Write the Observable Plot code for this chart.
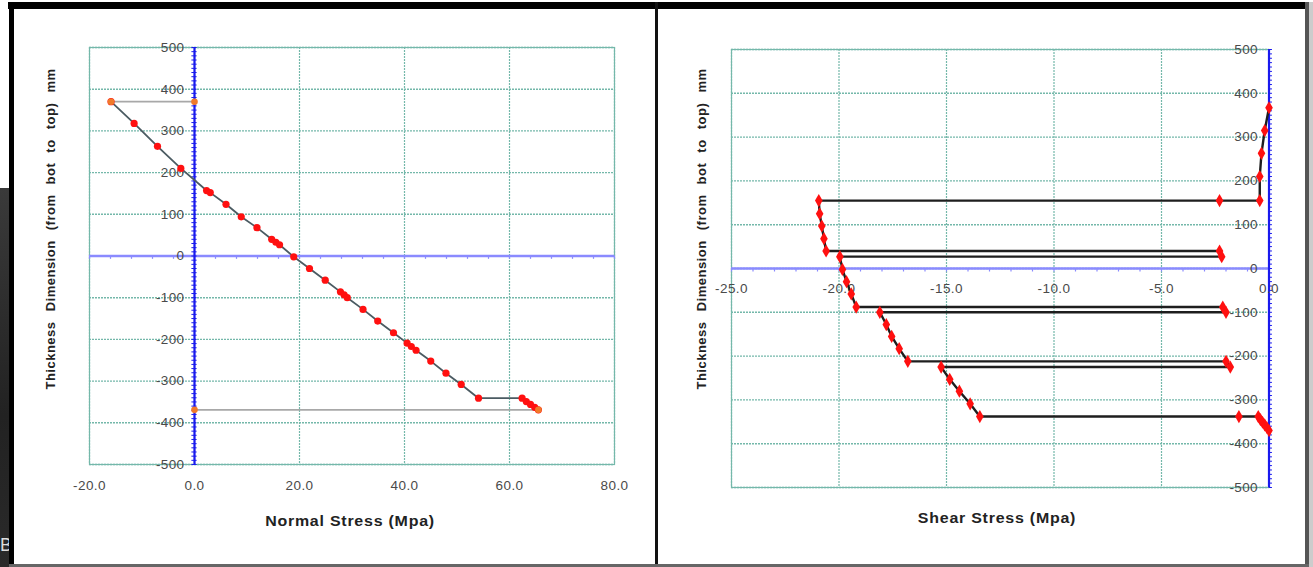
<!DOCTYPE html>
<html><head><meta charset="utf-8">
<script src="https://cdn.jsdelivr.net/npm/d3@7"></script>
<script src="https://cdn.jsdelivr.net/npm/@observablehq/plot@0.6"></script>
<style>
html,body{margin:0;padding:0}
body{width:1313px;height:567px;overflow:hidden;background:#fff;position:relative;font-family:"Liberation Sans",Arial,sans-serif}
.abs{position:absolute}
.ytitle{position:absolute;white-space:nowrap;font-weight:bold;font-size:13px;color:#222;word-spacing:6px;letter-spacing:0.5px;transform:translate(-50%,-50%) rotate(-90deg)}
.xtitle{position:absolute;white-space:nowrap;font-weight:bold;font-size:14.5px;color:#222;letter-spacing:0.7px;transform:translate(-50%,-50%) scaleX(1.1)}
</style></head><body>
<div class="abs" style="left:0;top:188px;width:10px;height:379px;background:linear-gradient(#3a3a3a,#222 60%,#2a2a2a)"></div>
<div class="abs" style="left:0;top:535px;font-size:18px;color:#ddd;line-height:20px">B</div>
<div id="left" class="abs" style="left:14px;top:9px"></div>
<div id="right" class="abs" style="left:658px;top:9px"></div>
<div class="abs" style="left:8px;top:2px;width:1305px;height:7px;background:#000"></div>
<div class="abs" style="left:9px;top:2px;width:5px;height:565px;background:#000"></div>
<div class="abs" style="left:655px;top:2px;width:3px;height:565px;background:#111"></div>
<div class="abs" style="left:1305px;top:2px;width:4px;height:565px;background:#555"></div>
<div class="abs" style="left:1309px;top:2px;width:4px;height:565px;background:#ccc"></div>
<div class="abs" style="left:9px;top:564px;width:1300px;height:3px;background:#666"></div>
<div class="ytitle" style="left:50px;top:229px">Thickness Dimension (from bot to top) mm</div>
<div class="ytitle" style="left:701px;top:229px">Thickness Dimension (from bot to top) mm</div>
<div class="xtitle" style="left:350px;top:521px">Normal Stress (Mpa)</div>
<div class="xtitle" style="left:997px;top:518px">Shear Stress (Mpa)</div>
<script>
// ---- Left chart: normal stress profile ----
const normalStress = [-15.9,-11.5,-7.05,-2.6,2.3,3.0,6.0,8.9,11.9,14.7,15.5,16.2,18.9,21.9,24.9,27.8,28.5,29.1,32.1,34.9,37.9,40.5,41.3,42.2,45.0,47.9,50.8,54.1,62.4,63.2,64.0,64.8,65.5];
const normalDepth  = [370,318,263,210,157,152,124,94,68,40,33,27,-2,-30,-58,-86,-93,-100,-128,-156,-184,-209,-217,-226,-252,-281,-308,-341,-341,-349,-356,-363,-369];
// outline (section top / bottom)
const outlineStress = [0,-15.9,0,65.5];
const outlineDepth  = [370,370,-369,-369];
const outlineSeg    = ["top","top","bottom","bottom"];
const normalXTicks = [-20,0,20,40,60,80];
const depthTicks = [500,400,300,200,100,0,-100,-200,-300,-400,-500];

// ---- Right chart: shear stress profile ----
const shearStress = [0,-0.2,-0.35,-0.43,-0.43,-2.3,-20.94,-20.9,-20.8,-20.7,-20.6,-2.3,-2.2,-19.96,-19.84,-19.65,-19.43,-19.2,-2.15,-2.0,-18.1,-17.8,-17.55,-17.2,-16.8,-2.0,-1.8,-15.25,-14.85,-14.4,-13.9,-13.45,-1.4,-0.5,-0.4,-0.3,-0.2,-0.1,0];
const shearDepth  = [367,315,263,210,155,155,155,125,97,68,40,40,27,27,-2,-30,-58,-88,-88,-100,-100,-128,-155,-183,-212,-212,-225,-225,-253,-280,-309,-338,-338,-338,-345,-351,-357,-363,-370];
const shearXTicks = [-25,-20,-15,-10,-5,0];

const gridColor = "#74b8aa";
const axisBlue = "#1a1aee";
const zeroBlue = "#8a8aff";
const labelStyle = {fill:"#4a4a4a", fontSize:13.5};

const normalData = normalStress.map((x,i)=>({x, y: normalDepth[i]}));
const outlineData = outlineStress.map((x,i)=>({x, y: outlineDepth[i], s: outlineSeg[i]}));
const shearData = shearStress.map((x,i)=>({x, y: shearDepth[i]}));

const minorDepth = d3.range(-500, 501, 10);
const svgStyle = {background: "white", fontFamily: "Liberation Sans, Arial, sans-serif", overflow: "visible", letterSpacing: "0.4px"};

const left = Plot.plot({
  width: 641, height: 556,
  marginLeft: 75, marginRight: 41, marginTop: 38, marginBottom: 101,
  x: {domain: [-20, 80], axis: null},
  y: {domain: [-500, 500], axis: null},
  style: svgStyle,
  marks: [
    Plot.ruleX(normalXTicks, {stroke: gridColor, strokeDasharray: "2,1", strokeWidth: 1.2}),
    Plot.ruleY(depthTicks, {stroke: gridColor, strokeDasharray: "2,1", strokeWidth: 1.4}),
    Plot.frame({stroke: gridColor, strokeWidth: 1.2}),
    Plot.ruleY([0], {stroke: zeroBlue, strokeWidth: 2.5}),
    Plot.ruleX(d3.range(-20, 81, 4), {y1: 0, y2: -8, stroke: zeroBlue, strokeWidth: 1.2}),
    Plot.ruleX([0], {stroke: axisBlue, strokeWidth: 2.2}),
    Plot.ruleY(minorDepth, {x1: -0.5, x2: 0.5, stroke: axisBlue, strokeWidth: 1}),
    Plot.text(depthTicks, {x: 0, y: d => d, text: d => String(d), dx: -10, textAnchor: "end", ...labelStyle}),
    Plot.text(normalXTicks, {x: d => d, y: -500, text: d => d.toFixed(1), dy: 21, ...labelStyle}),
    Plot.line(outlineData, {x: "x", y: "y", z: "s", stroke: "#a8a8a8", strokeWidth: 1.8}),
    Plot.line(normalData, {x: "x", y: "y", stroke: "#4b5b62", strokeWidth: 1.8}),
    Plot.dot(normalData, {x: "x", y: "y", fill: "#ff1010", r: 3.6}),
    Plot.dot(outlineData, {x: "x", y: "y", fill: "#f07a2a", r: 3.3})
  ]
});
document.getElementById("left").appendChild(left);

const right = Plot.plot({
  width: 647, height: 556,
  marginLeft: 73, marginRight: 36.5, marginTop: 40, marginBottom: 78,
  x: {domain: [-25, 0], axis: null},
  y: {domain: [-500, 500], axis: null},
  style: svgStyle,
  marks: [
    Plot.ruleX(shearXTicks, {stroke: gridColor, strokeDasharray: "2,1", strokeWidth: 1.2}),
    Plot.ruleY(depthTicks, {stroke: gridColor, strokeDasharray: "2,1", strokeWidth: 1.4}),
    Plot.frame({stroke: gridColor, strokeWidth: 1.2}),
    Plot.ruleY([0], {stroke: zeroBlue, strokeWidth: 2.5}),
    Plot.ruleX(d3.range(-25, 1, 1), {y1: 0, y2: -8, stroke: zeroBlue, strokeWidth: 1.2}),
    Plot.ruleX([0], {stroke: axisBlue, strokeWidth: 2.2}),
    Plot.ruleY(minorDepth, {x1: 0, x2: 0.16, stroke: axisBlue, strokeWidth: 1}),
    Plot.text(depthTicks, {x: 0, y: d => d, text: d => String(d), dx: -11, textAnchor: "end", ...labelStyle}),
    Plot.text(shearXTicks, {x: d => d, y: 0, text: d => d.toFixed(1), dy: 20, ...labelStyle}),
    Plot.line(shearData, {x: "x", y: "y", stroke: "#1e1e1e", strokeWidth: 2.4}),
    Plot.dot(shearData, {x: "x", y: "y", fill: "#ff1010", r: 4, symbol: "diamond"})
  ]
});
document.getElementById("right").appendChild(right);
</script>
</body></html>
